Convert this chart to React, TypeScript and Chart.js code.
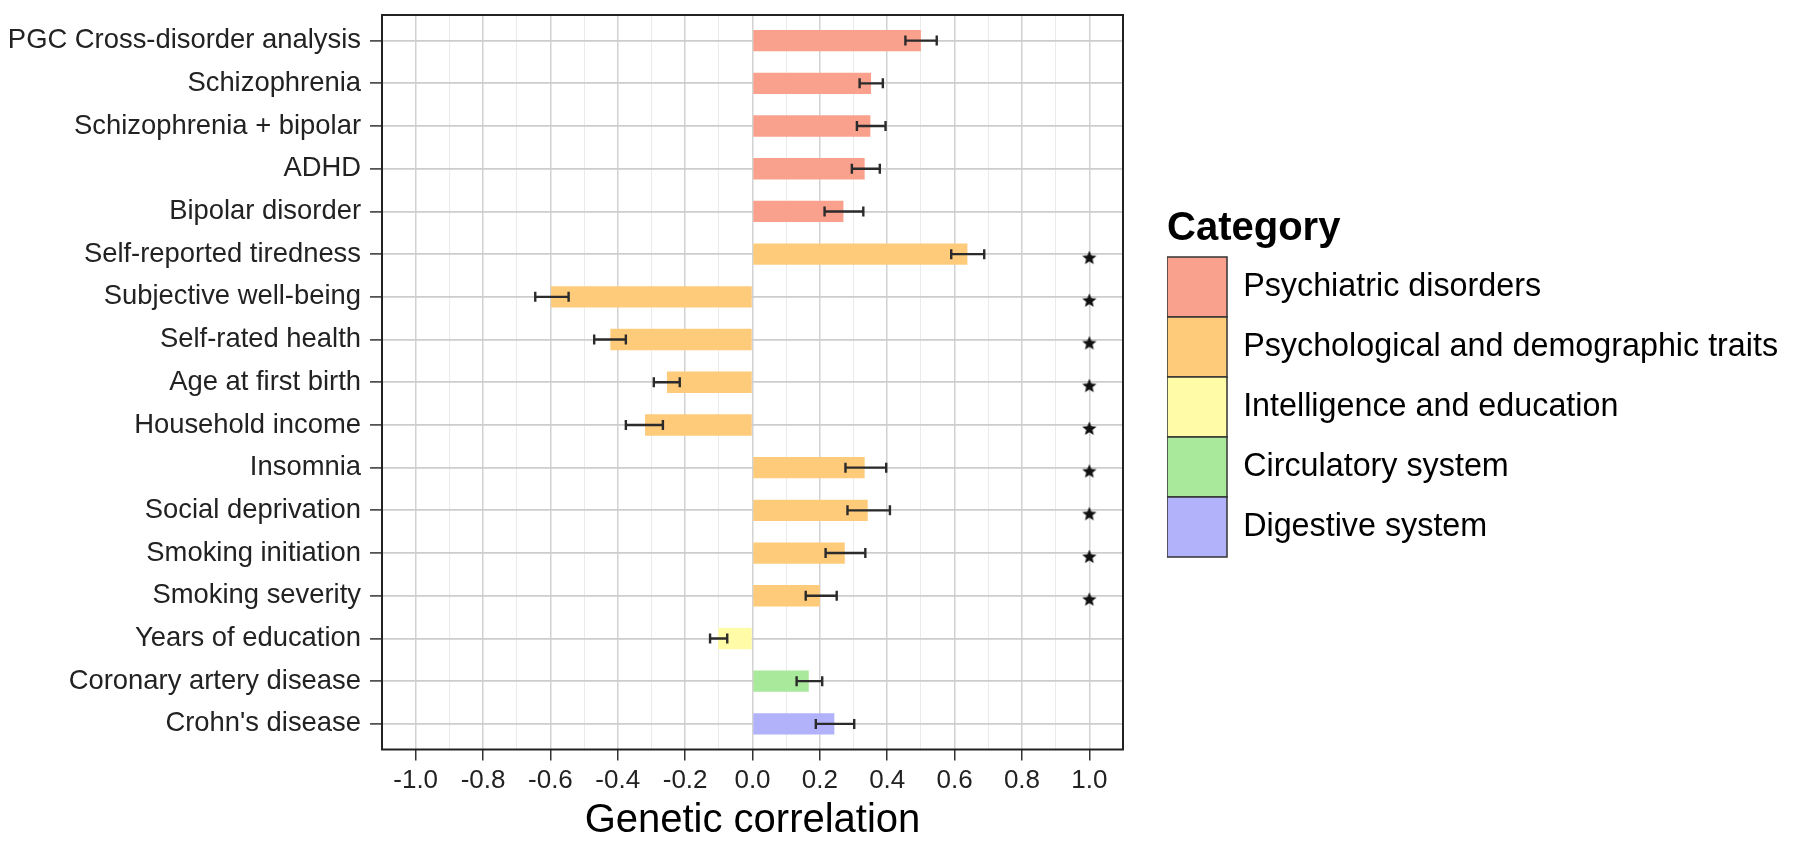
import { useEffect, useRef } from 'react';
import { Chart, registerables } from 'chart.js';

Chart.register(...registerables);

const FONT = '"Liberation Sans", Arial, Helvetica, sans-serif';

const LABELS = [
  'PGC Cross-disorder analysis',
  'Schizophrenia',
  'Schizophrenia + bipolar',
  'ADHD',
  'Bipolar disorder',
  'Self-reported tiredness',
  'Subjective well-being',
  'Self-rated health',
  'Age at first birth',
  'Household income',
  'Insomnia',
  'Social deprivation',
  'Smoking initiation',
  'Smoking severity',
  'Years of education',
  'Coronary artery disease',
  "Crohn's disease",
];
const VALUES = [0.5, 0.352, 0.35, 0.333, 0.27, 0.638, -0.598, -0.422, -0.254, -0.319, 0.333, 0.342, 0.274, 0.2, -0.102, 0.167, 0.243];
const CI_LOW = [0.454, 0.318, 0.31, 0.295, 0.214, 0.59, -0.645, -0.47, -0.293, -0.376, 0.276, 0.282, 0.217, 0.158, -0.126, 0.131, 0.188];
const CI_HIGH = [0.547, 0.387, 0.395, 0.378, 0.329, 0.688, -0.546, -0.376, -0.216, -0.266, 0.397, 0.408, 0.335, 0.25, -0.075, 0.207, 0.302];
const CATEGORY_OF = [0, 0, 0, 0, 0, 1, 1, 1, 1, 1, 1, 1, 1, 1, 2, 3, 4];
const SIGNIFICANT = [0, 0, 0, 0, 0, 1, 1, 1, 1, 1, 1, 1, 1, 1, 0, 0, 0];
const STAR_AT = 1.0;

const CATEGORIES = [
  'Psychiatric disorders',
  'Psychological and demographic traits',
  'Intelligence and education',
  'Circulatory system',
  'Digestive system',
];
const CATEGORY_COLORS = ['#F9A18C', '#FECB7B', '#FFFBA6', '#A9E99C', '#B2B2FA'];

const X_TICKS = [-1.0, -0.8, -0.6, -0.4, -0.2, 0.0, 0.2, 0.4, 0.6, 0.8, 1.0];
const X_TICK_LABELS = ['-1.0', '-0.8', '-0.6', '-0.4', '-0.2', '0.0', '0.2', '0.4', '0.6', '0.8', '1.0'];
const X_MINOR = [-0.9, -0.7, -0.5, -0.3, -0.1, 0.1, 0.3, 0.5, 0.7, 0.9];

const majorIndex = (v: number) => X_TICKS.findIndex((t) => Math.abs(t - v) < 1e-9);
const isMajor = (v: any) => typeof v === 'number' && majorIndex(v) >= 0;

function makeStar(): HTMLCanvasElement {
  const c = document.createElement('canvas');
  c.width = 18;
  c.height = 26;
  const g = c.getContext('2d')!;
  const cx = 9, cy = 17, R = 7.5, r = 3.3;
  g.beginPath();
  for (let k = 0; k < 10; k++) {
    const rad = k % 2 === 0 ? R : r;
    const a = -Math.PI / 2 + (k * Math.PI) / 5;
    const px = cx + rad * Math.cos(a);
    const py = cy + rad * Math.sin(a);
    if (k === 0) g.moveTo(px, py);
    else g.lineTo(px, py);
  }
  g.closePath();
  g.fillStyle = '#111';
  g.fill();
  return c;
}

const errorBarPlugin = {
  id: 'errorBars',
  afterDatasetsDraw(chart: any) {
    const { ctx, scales } = chart;
    const x = scales.x, y = scales.y;
    ctx.save();
    ctx.strokeStyle = '#2b2b2b';
    ctx.lineWidth = 2.4;
    LABELS.forEach((_, i) => {
      const py = y.getPixelForValue(i);
      const x1 = x.getPixelForValue(CI_LOW[i]);
      const x2 = x.getPixelForValue(CI_HIGH[i]);
      ctx.beginPath();
      ctx.moveTo(x1, py);
      ctx.lineTo(x2, py);
      ctx.moveTo(x1, py - 5);
      ctx.lineTo(x1, py + 5);
      ctx.moveTo(x2, py - 5);
      ctx.lineTo(x2, py + 5);
      ctx.stroke();
    });
    ctx.restore();
  },
};

const framePlugin = {
  id: 'panelFrame',
  afterDraw(chart: any) {
    const { ctx, chartArea } = chart;
    ctx.save();
    ctx.strokeStyle = '#222';
    ctx.lineWidth = 2;
    ctx.strokeRect(chartArea.left, chartArea.top, chartArea.right - chartArea.left, chartArea.bottom - chartArea.top);
    ctx.restore();
  },
};

const LEGEND_LEFT = 1167;
const LEGEND_ITEMS_TOP = 257;

const legendPlacePlugin = {
  id: 'legendPlace',
  afterLayout(chart: any) {
    const lg = chart.legend;
    if (!lg) return;
    lg.left = LEGEND_LEFT;
    lg.width = chart.width - LEGEND_LEFT;
    lg.right = chart.width;
    const T = typeof lg._computeTitleHeight === 'function' ? lg._computeTitleHeight() : 0;
    const colH = lg.columnSizes && lg.columnSizes[0] ? lg.columnSizes[0].height : 0;
    const cur = (lg.top + T + lg.bottom - colH) / 2;
    const dy = LEGEND_ITEMS_TOP - cur;
    lg.top += dy;
    lg.bottom += dy;
  },
};

export default function App() {
  const ref = useRef<HTMLCanvasElement>(null);

  useEffect(() => {
    const canvas = ref.current!;
    const star = makeStar();
    const barData = VALUES.map((v, i) => ({ x: v, y: i }));
    const starData = SIGNIFICANT.map((s, i) => (s ? { x: STAR_AT, y: i } : null)).filter(Boolean) as { x: number; y: number }[];
    const xAll = [...X_TICKS, ...X_MINOR].sort((a, b) => a - b);

    const chart = new Chart(canvas, {
      type: 'bar',
      data: {
        datasets: [
          {
            type: 'bar',
            label: 'Genetic correlation',
            data: barData as any,
            backgroundColor: CATEGORY_OF.map((c) => CATEGORY_COLORS[c]),
            borderWidth: 0,
            barPercentage: 0.5,
            categoryPercentage: 1,
          } as any,
          {
            type: 'scatter',
            label: 'Significant',
            data: starData as any,
            pointStyle: star as any,
            pointRadius: 8,
            showLine: false,
          } as any,
        ],
      },
      options: {
        indexAxis: 'y',
        responsive: false,
        devicePixelRatio: 1,
        animation: false,
        events: [],
        layout: { padding: { top: 15, right: 77, bottom: 0, left: 0 } },
        scales: {
          x: {
            type: 'linear',
            bounds: 'data',
            offset: false,
            min: -1.1,
            max: 1.1,
            afterBuildTicks: (s: any) => {
              s.ticks = xAll.map((v) => ({ value: v }));
            },
            afterFit: (s: any) => {
              s.height = 98.5;
            },
            ticks: {
              autoSkip: false,
              maxRotation: 0,
              minRotation: 0,
              padding: 5,
              color: '#222',
              font: { family: FONT, size: 26 },
              callback: (v: any) => {
                const k = majorIndex(Number(v));
                return k >= 0 ? X_TICK_LABELS[k] : '';
              },
            },
            grid: {
              color: (c: any) => (isMajor(c.tick && c.tick.value) ? '#d2d2d2' : '#ebebeb'),
              lineWidth: (c: any) => (isMajor(c.tick && c.tick.value) ? 1.5 : 1),
              tickColor: (c: any) => (isMajor(c.tick && c.tick.value) ? '#333' : 'rgba(0,0,0,0)'),
              tickLength: 11,
              tickWidth: 1.5,
              offset: false,
            },
            border: { display: false },
            title: {
              display: true,
              text: 'Genetic correlation',
              color: '#000',
              font: { family: FONT, size: 40 },
              padding: { top: 0, bottom: 3 },
            },
          } as any,
          y: {
            type: 'linear',
            bounds: 'data',
            offset: false,
            min: -0.6,
            max: 16.6,
            reverse: true,
            afterBuildTicks: (s: any) => {
              s.ticks = LABELS.map((_, i) => ({ value: i }));
            },
            afterFit: (s: any) => {
              s.width = 382;
              s.paddingTop = 0;
              s.paddingBottom = 0;
            },
            ticks: {
              autoSkip: false,
              padding: 9,
              color: '#222',
              font: { family: FONT, size: 27.4 },
              callback: (v: any) => LABELS[Number(v)] ?? '',
            },
            grid: {
              color: '#cdcdcd',
              lineWidth: 1.8,
              tickColor: '#333',
              tickLength: 12,
              tickWidth: 1.5,
              offset: false,
            },
            border: { display: false },
          } as any,
        },
        plugins: {
          tooltip: { enabled: false },
          legend: {
            display: true,
            position: 'right',
            align: 'center',
            maxWidth: 600,
            title: {
              display: true,
              text: 'Category',
              color: '#000',
              font: { family: FONT, size: 40, weight: 'bold' },
              padding: 0,
              position: 'start',
            } as any,
            labels: {
              boxWidth: 60,
              boxHeight: 60,
              padding: 0,
              color: '#1a1a1a',
              font: { family: FONT, size: 32.3 },
              generateLabels: () =>
                CATEGORIES.map((t, i) => ({
                  text: t,
                  fillStyle: CATEGORY_COLORS[i],
                  strokeStyle: '#333',
                  lineWidth: 1.5,
                  hidden: false,
                  datasetIndex: 0,
                  index: i,
                })) as any,
            },
          } as any,
        },
      },
      plugins: [errorBarPlugin, framePlugin, legendPlacePlugin],
    });

    return () => chart.destroy();
  }, []);

  return (
    <div style={{ position: 'fixed', left: 0, top: 0, width: 1800, height: 848, background: '#fff' }}>
      <canvas ref={ref} width={1800} height={848} style={{ display: 'block', width: 1800, height: 848 }} />
    </div>
  );
}
